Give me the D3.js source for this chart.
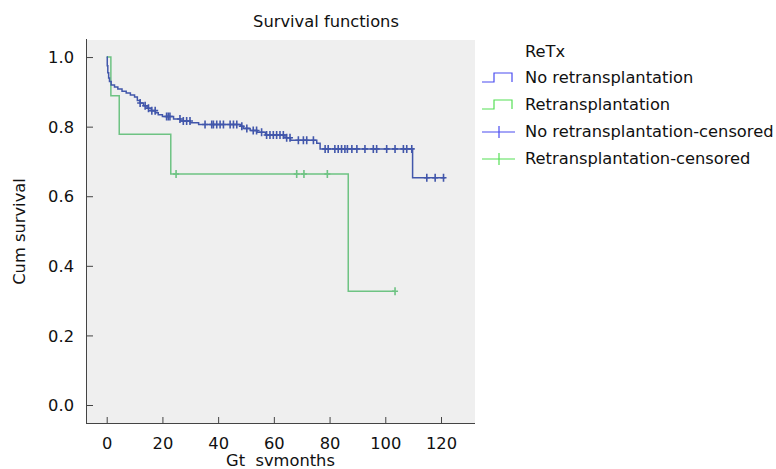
<!DOCTYPE html>
<html>
<head>
<meta charset="utf-8">
<script src="https://cdn.jsdelivr.net/npm/d3@7"></script>
<style>
  html, body { margin: 0; padding: 0; background: #ffffff; }
  svg text { font-family: "DejaVu Sans", Verdana, sans-serif; fill: #111; }
</style>
</head>
<body>
<svg id="chart" width="776" height="469"></svg>
<script>
// Kaplan-Meier step data: event times (months) and survival after each step
const noRetxTimes = [0, 0.2, 0.4, 0.7, 1.0, 1.6, 2.8, 4, 5.5, 7, 8.5, 10, 11, 12, 13.2, 14.5, 16, 17.5, 18.5, 20,
  24, 26.5, 30, 33, 48, 49, 51.5, 54, 57, 64, 66, 75.4, 76.6, 109.8];
const noRetxSurv = [1.0, 0.975, 0.955, 0.94, 0.93, 0.92, 0.914, 0.908, 0.902, 0.897, 0.891, 0.885, 0.875, 0.868, 0.86, 0.853, 0.846, 0.84, 0.834, 0.829,
  0.822, 0.816, 0.811, 0.806, 0.801, 0.795, 0.789, 0.784, 0.776, 0.768, 0.761, 0.752, 0.736, 0.653];
const noRetxEnd = 121.5;
const noRetxCensored = [12, 13.8, 15, 16.2, 17.4, 21.5, 22.1, 22.7, 26.3, 27.5, 28.7, 29.9, 35.3, 37.7, 38.3, 39.5, 40.7,
  41.9, 44.3, 45.5, 46.7, 48.5, 50.3, 52.6, 53.8, 55.6, 57.4, 58.6, 59.8, 61, 62.2, 63.4, 64.6, 65.8, 68.8, 70.6, 71.8, 74.2,
  78.4, 79.5, 81.9, 83.1, 84.3, 85.5, 86.4, 88, 89.8, 92.7, 95.7, 96.9, 100.5, 103.5, 106.5, 107.7, 109.5, 114.9, 117.9, 120.9];

const retxTimes = [0, 1.5, 4.5, 23, 86.7];
const retxSurv = [1.0, 0.889, 0.778, 0.664, 0.327];
const retxEnd = 103.5;
const retxCensored = [24.9, 68.2, 70.8, 79.2, 103.5];

const xTicks = [0, 20, 40, 60, 80, 100, 120];
const yTicks = [0.0, 0.2, 0.4, 0.6, 0.8, 1.0];

const legendTitle = "ReTx";
const legendLabels = ["No retransplantation", "Retransplantation",
  "No retransplantation-censored", "Retransplantation-censored"];

const colors = {
  noRetx: "#4257ab", retx: "#6ec383",
  legNoRetx: "#4a4cf0", legRetx: "#55e055"
};

const svg = d3.select("#chart");
const panel = { left: 86, right: 475, top: 40, bottom: 423 };

const x = d3.scaleLinear().domain([-7.43, 132.2]).range([panel.left, panel.right]);
const y = d3.scaleLinear().domain([-0.0517, 1.049]).range([panel.bottom, panel.top]);

// plot background
svg.append("rect")
  .attr("x", panel.left).attr("y", panel.top)
  .attr("width", panel.right - panel.left).attr("height", panel.bottom - panel.top)
  .attr("fill", "#efefef");

// axes: ticks point into the panel
const xAxis = d3.axisBottom(x).tickValues(xTicks).tickSize(-6).tickPadding(14).tickFormat(d3.format("d"));
const yAxis = d3.axisLeft(y).tickValues(yTicks).tickSize(-7).tickPadding(12).tickFormat(d3.format(".1f"));

const gx = svg.append("g").attr("transform", `translate(0,${panel.bottom})`).call(xAxis);
const gy = svg.append("g").attr("transform", `translate(${panel.left},0)`).call(yAxis);
[gx, gy].forEach(g => {
  g.select(".domain").remove();
  g.selectAll(".tick line").attr("stroke", "#444");
  g.selectAll(".tick text").attr("font-size", 16.3).attr("font-family", "DejaVu Sans, Verdana, sans-serif").attr("fill", "#111");
});
gy.selectAll(".tick text").attr("dy", "0.35em");

svg.append("line").attr("x1", panel.left + 0.5).attr("x2", panel.left + 0.5)
  .attr("y1", panel.top - 1).attr("y2", panel.bottom).attr("stroke", "#444");
svg.append("line").attr("x1", panel.left).attr("x2", panel.right)
  .attr("y1", panel.bottom + 0.5).attr("y2", panel.bottom + 0.5).attr("stroke", "#444");

// titles
svg.append("text").attr("x", 326).attr("y", 27).attr("text-anchor", "middle")
  .attr("font-size", 16.3).text("Survival functions");
svg.append("text").attr("x", (panel.left + panel.right) / 2).attr("y", 466).attr("text-anchor", "middle")
  .attr("font-size", 16.3).style("white-space", "pre").text("Gt  svmonths");
svg.append("text").attr("transform", `translate(25,${(panel.top + panel.bottom) / 2}) rotate(-90)`)
  .attr("text-anchor", "middle").attr("font-size", 16.3).text("Cum survival");

// survival curves
function stepPoints(times, surv, end) {
  const pts = times.map((t, i) => [t, surv[i]]);
  pts.push([end, surv[surv.length - 1]]);
  return pts;
}
function survAt(times, surv, t) {
  let s = surv[0];
  for (let i = 0; i < times.length; i++) if (times[i] <= t) s = surv[i];
  return s;
}
const line = d3.line().x(d => x(d[0])).y(d => y(d[1])).curve(d3.curveStepAfter);

function drawGroup(times, surv, end, censored, color) {
  const g = svg.append("g");
  g.append("path").datum(stepPoints(times, surv, end))
    .attr("d", line).attr("fill", "none").attr("stroke", color).attr("stroke-width", 1.5);
  g.selectAll("path.cens").data(censored).join("path").attr("class", "cens")
    .attr("d", t => {
      const cx = x(t), cy = y(survAt(times, surv, t));
      return `M${cx},${cy - 4}V${cy + 4}M${cx - 3},${cy}H${cx + 3}`;
    })
    .attr("fill", "none").attr("stroke", color).attr("stroke-width", 1.6);
}
drawGroup(retxTimes, retxSurv, retxEnd, retxCensored, colors.retx);
drawGroup(noRetxTimes, noRetxSurv, noRetxEnd, noRetxCensored, colors.noRetx);

// legend
const leg = svg.append("g");
leg.append("text").attr("x", 525).attr("y", 57).attr("font-size", 16.3).text(legendTitle);
const legRows = [84, 111, 138, 165];
const legColors = [colors.legNoRetx, colors.legRetx, colors.legNoRetx, colors.legRetx];
legendLabels.forEach((lab, i) => {
  const cy = legRows[i];
  leg.append("text").attr("x", 525).attr("y", cy - 1).attr("font-size", 16.3).text(lab);
  const baseY = cy - 6;
  if (i < 2) {
    leg.append("path")
      .attr("d", `M482,${baseY + 4}H494V${baseY - 5}H512V${baseY + 4}`)
      .attr("fill", "none").attr("stroke", legColors[i]).attr("stroke-width", 1.2);
  } else {
    leg.append("path")
      .attr("d", `M482,${baseY}H515M499,${baseY - 6}V${baseY + 6}`)
      .attr("fill", "none").attr("stroke", legColors[i]).attr("stroke-width", 1.2);
  }
});
</script>
</body>
</html>
